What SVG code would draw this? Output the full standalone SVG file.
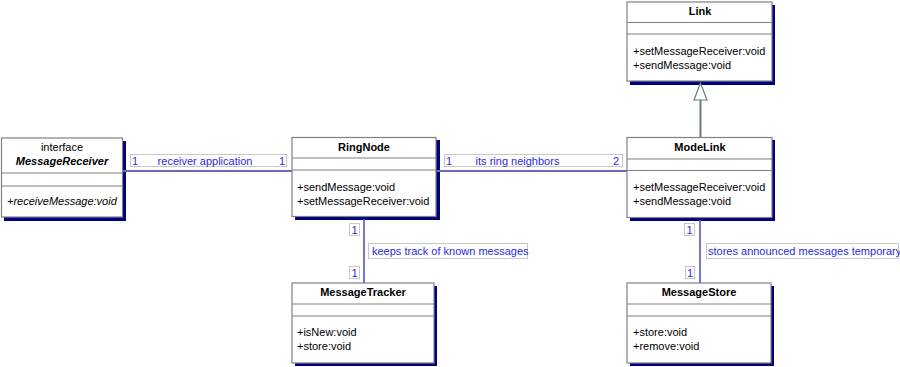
<svg xmlns="http://www.w3.org/2000/svg" width="900" height="367" viewBox="0 0 900 367">
<style>
text{font-family:"Liberation Sans",Arial,sans-serif;font-size:11px;fill:#000}
.t{font-weight:bold;text-anchor:middle}
.c{text-anchor:middle}
.bi{font-weight:bold;font-style:italic;text-anchor:middle}
.i{font-style:italic}
.sh{fill:#000080}
.bx{fill:#fff;stroke:#808080;stroke-width:1.2}
.dv{stroke:#808080;stroke-width:1.2}
.lb{fill:#fff;stroke:#c8c8c8;stroke-width:1}
.lt{fill:#2a2ae0}
.as{stroke:#6a6ab8;stroke-width:2;fill:none}
.av{stroke:#5050e0;stroke-width:1.6;fill:none}
</style>
<g id="MessageReceiver">
<rect class="sh" x="4" y="141" width="122" height="80"/>
<rect class="bx" x="1.5" y="138" width="121" height="79"/>
<line class="dv" x1="1.5" y1="173" x2="122.5" y2="173"/>
<line class="dv" x1="1.5" y1="186" x2="122.5" y2="186"/>
<text class="c" x="62" y="151">interface</text>
<text class="bi" x="62" y="165">MessageReceiver</text>
<text class="i" x="7" y="205">+receiveMessage:void</text>
</g>
<g id="RingNode">
<rect class="sh" x="295" y="140" width="145" height="80"/>
<rect class="bx" x="292" y="137.5" width="144" height="79"/>
<line class="dv" x1="292" y1="158" x2="436" y2="158"/>
<line class="dv" x1="292" y1="170" x2="436" y2="170"/>
<text class="t" x="364" y="151">RingNode</text>
<text x="297" y="191">+sendMessage:void</text>
<text x="297" y="205">+setMessageReceiver:void</text>
</g>
<g id="Link">
<rect class="sh" x="630" y="5" width="145" height="80"/>
<rect class="bx" x="627" y="2" width="145" height="79"/>
<line class="dv" x1="627" y1="22.5" x2="772" y2="22.5"/>
<line class="dv" x1="627" y1="34" x2="772" y2="34"/>
<text class="t" x="700" y="15">Link</text>
<text x="633" y="54.5">+setMessageReceiver:void</text>
<text x="633" y="69">+sendMessage:void</text>
</g>
<g id="ModeLink">
<rect class="sh" x="630" y="140" width="145" height="81"/>
<rect class="bx" x="627" y="137.5" width="145" height="80"/>
<line class="dv" x1="627" y1="159" x2="772" y2="159"/>
<line class="dv" x1="627" y1="170.5" x2="772" y2="170.5"/>
<text class="t" x="700" y="151">ModeLink</text>
<text x="633" y="191">+setMessageReceiver:void</text>
<text x="633" y="205">+sendMessage:void</text>
</g>
<g id="MessageTracker">
<rect class="sh" x="295" y="286" width="142" height="80"/>
<rect class="bx" x="292" y="283" width="142" height="80"/>
<line class="dv" x1="292" y1="304" x2="434" y2="304"/>
<line class="dv" x1="292" y1="316" x2="434" y2="316"/>
<text class="t" x="363" y="296">MessageTracker</text>
<text x="297" y="336">+isNew:void</text>
<text x="297" y="350">+store:void</text>
</g>
<g id="MessageStore">
<rect class="sh" x="630" y="286" width="144" height="80"/>
<rect class="bx" x="627" y="283" width="144" height="80"/>
<line class="dv" x1="627" y1="304" x2="771" y2="304"/>
<line class="dv" x1="627" y1="316" x2="771" y2="316"/>
<text class="t" x="699" y="296">MessageStore</text>
<text x="633" y="336">+store:void</text>
<text x="633" y="350">+remove:void</text>
</g>
<g id="connectors">
<line class="as" x1="123" y1="171" x2="292" y2="171"/>
<line class="as" x1="437" y1="171" x2="627" y2="171"/>
<line class="av" x1="364" y1="219" x2="364" y2="283"/>
<line class="av" x1="700" y1="220" x2="700" y2="283"/>
<line x1="700.5" y1="137" x2="700.5" y2="100" stroke="#6a7a7a" stroke-width="2"/>
<polygon points="700.5,83 707,100 694,100" fill="#fff" stroke="#6a7a7a" stroke-width="1.2"/>
<g id="lbl1">
<rect class="lb" x="130.5" y="154.5" width="156" height="12"/>
<text class="lt" x="132" y="165">1</text>
<text class="lt c" x="205" y="165">receiver application</text>
<text class="lt" x="279" y="165">1</text>
</g>
<g id="lbl2">
<rect class="lb" x="444.5" y="154.5" width="178" height="12"/>
<text class="lt" x="446" y="165">1</text>
<text class="lt c" x="517.5" y="165">its ring neighbors</text>
<text class="lt" x="613" y="165">2</text>
</g>
<g id="lbl3">
<rect class="lb" x="349.5" y="223.5" width="10" height="12"/>
<text class="lt" x="351.5" y="233.5">1</text>
<rect class="lb" x="368.5" y="243.5" width="159" height="15"/>
<text class="lt" x="372" y="254.5">keeps track of known messages</text>
<rect class="lb" x="349.5" y="266.5" width="10" height="12"/>
<text class="lt" x="351.5" y="277">1</text>
</g>
<g id="lbl4">
<rect class="lb" x="684.5" y="223.5" width="10" height="12"/>
<text class="lt" x="686.5" y="233.5">1</text>
<rect class="lb" x="706.5" y="243.5" width="192" height="15"/>
<text class="lt" x="708" y="254.5">stores announced messages temporary</text>
<rect class="lb" x="685.5" y="266.5" width="9" height="12"/>
<text class="lt" x="687" y="277">1</text>
</g>
</g>
</svg>
